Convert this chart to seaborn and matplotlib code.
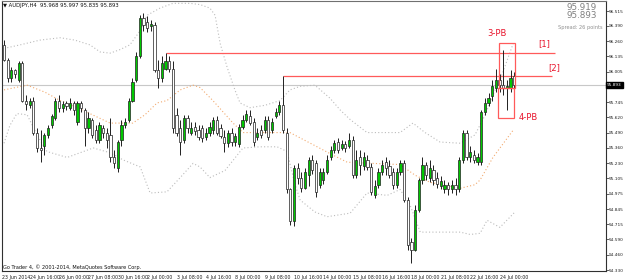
import numpy as np
import pandas as pd
import matplotlib
matplotlib.use("Agg")
import matplotlib.pyplot as plt
import matplotlib.transforms as mtransforms
from matplotlib.patches import Rectangle
import seaborn as sns

# ---------------- data (AUDJPY, H4) ----------------
opens = [96.23, 96.10, 95.95, 96.02, 95.93, 96.08, 95.76, 95.72, 95.76, 95.49,
         95.36, 95.38, 95.47, 95.55, 95.61, 95.76, 95.70, 95.74, 95.70, 95.74,
         95.58, 95.74, 95.68, 95.53, 95.60, 95.51, 95.43, 95.53, 95.49, 95.47,
         95.28, 95.19, 95.43, 95.55, 95.60, 95.76, 95.93, 96.14, 96.46, 96.42,
         96.39, 96.40, 96.02, 95.95, 96.03, 96.09, 96.03, 95.64, 95.53, 95.43,
         95.61, 95.49, 95.54, 95.51, 95.53, 95.45, 95.49, 95.51, 95.60, 95.53,
         95.45, 95.40, 95.49, 95.41, 95.39, 95.54, 95.60, 95.63, 95.58, 95.45,
         95.51, 95.51, 95.60, 95.51, 95.63, 95.66, 95.72, 95.49, 95.01, 94.74,
         95.19, 95.11, 95.02, 95.13, 95.26, 95.23, 95.05, 95.09, 95.16, 95.28,
         95.34, 95.41, 95.36, 95.39, 95.38, 95.43, 95.13, 95.28, 95.21, 95.26,
         95.20, 94.96, 95.05, 95.16, 95.24, 95.21, 95.16, 95.05, 95.16, 95.23,
         94.92, 94.57, 94.50, 94.84, 95.09, 95.22, 95.11, 95.17, 95.11, 95.04,
         95.01, 95.05, 95.01, 95.05, 95.01, 95.26, 95.49, 95.28, 95.30, 95.24,
         95.24, 95.66, 95.74, 95.80, 95.87, 95.93, 95.89, 95.87, 95.87, 95.968]
highs = [96.27, 96.12, 96.04, 96.03, 96.09, 96.09, 95.81, 95.78, 95.79, 95.53,
         95.51, 95.49, 95.55, 95.65, 95.78, 95.81, 95.76, 95.76, 95.78, 95.76,
         95.76, 95.76, 95.70, 95.66, 95.61, 95.55, 95.58, 95.55, 95.53, 95.61,
         95.34, 95.43, 95.60, 95.61, 95.78, 95.95, 96.17, 96.48, 96.50, 96.47,
         96.44, 96.42, 96.10, 96.14, 96.16, 96.14, 96.09, 95.70, 95.60, 95.64,
         95.64, 95.58, 95.58, 95.55, 95.55, 95.53, 95.58, 95.62, 95.63, 95.56,
         95.51, 95.51, 95.53, 95.49, 95.56, 95.64, 95.68, 95.68, 95.61, 95.53,
         95.55, 95.63, 95.63, 95.61, 95.70, 95.76, 95.97, 95.53, 95.02, 95.22,
         95.23, 95.16, 95.19, 95.28, 95.30, 95.26, 95.19, 95.19, 95.30, 95.38,
         95.43, 95.44, 95.43, 95.42, 95.49, 95.46, 95.34, 95.34, 95.33, 95.30,
         95.23, 95.09, 95.19, 95.26, 95.28, 95.26, 95.19, 95.19, 95.26, 95.26,
         94.95, 94.60, 94.88, 95.11, 95.28, 95.24, 95.26, 95.22, 95.16, 95.12,
         95.09, 95.07, 95.09, 95.11, 95.28, 95.51, 95.51, 95.38, 95.34, 95.32,
         95.68, 95.78, 95.82, 95.93, 96.03, 95.98, 96.19, 95.93, 96.02, 95.997]
lows = [96.09, 95.92, 95.92, 95.95, 95.92, 95.75, 95.68, 95.70, 95.47, 95.33,
        95.24, 95.30, 95.44, 95.53, 95.60, 95.66, 95.66, 95.68, 95.68, 95.64,
        95.55, 95.66, 95.38, 95.49, 95.44, 95.40, 95.40, 95.44, 95.36, 95.24,
        95.19, 95.16, 95.38, 95.53, 95.58, 95.75, 95.92, 96.12, 96.35, 96.34,
        96.35, 96.00, 95.87, 95.92, 96.02, 96.00, 95.49, 95.46, 95.30, 95.40,
        95.49, 95.47, 95.47, 95.43, 95.41, 95.43, 95.46, 95.48, 95.47, 95.44,
        95.33, 95.37, 95.38, 95.38, 95.37, 95.52, 95.58, 95.55, 95.38, 95.43,
        95.44, 95.49, 95.43, 95.49, 95.61, 95.64, 95.49, 94.98, 94.71, 94.70,
        95.06, 94.99, 95.01, 95.04, 95.14, 94.95, 95.02, 95.06, 95.14, 95.26,
        95.32, 95.32, 95.34, 95.33, 95.36, 95.11, 95.11, 95.13, 95.17, 95.17,
        94.96, 94.94, 95.02, 95.13, 95.13, 95.11, 95.01, 95.02, 95.13, 94.90,
        94.50, 94.39, 94.49, 94.82, 95.06, 95.09, 95.07, 95.05, 95.02, 95.01,
        94.98, 94.96, 94.98, 94.96, 94.99, 95.23, 95.26, 95.24, 95.23, 95.22,
        95.22, 95.64, 95.71, 95.76, 95.83, 95.83, 95.81, 95.68, 95.83, 95.835]
closes = [96.10, 95.95, 96.02, 95.98, 96.08, 95.76, 95.73, 95.76, 95.49, 95.36,
          95.34, 95.47, 95.53, 95.63, 95.76, 95.70, 95.73, 95.71, 95.74, 95.68,
          95.74, 95.70, 95.53, 95.61, 95.47, 95.43, 95.55, 95.49, 95.43, 95.28,
          95.23, 95.41, 95.55, 95.58, 95.76, 95.92, 96.14, 96.46, 96.40, 96.37,
          96.41, 96.02, 95.95, 96.08, 96.09, 96.03, 95.53, 95.49, 95.41, 95.61,
          95.53, 95.53, 95.50, 95.45, 95.44, 95.49, 95.54, 95.60, 95.49, 95.46,
          95.40, 95.49, 95.41, 95.46, 95.54, 95.60, 95.65, 95.57, 95.41, 95.49,
          95.47, 95.60, 95.45, 95.58, 95.66, 95.72, 95.51, 95.01, 94.74, 95.19,
          95.11, 95.02, 95.16, 95.26, 95.17, 94.99, 95.16, 95.16, 95.26, 95.34,
          95.40, 95.34, 95.39, 95.36, 95.43, 95.13, 95.26, 95.22, 95.28, 95.20,
          94.99, 95.04, 95.16, 95.22, 95.19, 95.13, 95.05, 95.16, 95.23, 94.92,
          94.54, 94.50, 94.84, 95.09, 95.22, 95.13, 95.19, 95.09, 95.06, 95.08,
          95.05, 95.01, 95.05, 95.01, 95.26, 95.49, 95.28, 95.33, 95.26, 95.28,
          95.66, 95.74, 95.78, 95.88, 95.93, 95.89, 95.87, 95.88, 95.95, 95.893]

# Bollinger bands read at sampled bar positions
upper_idx = [0, 4.4, 9.8, 15.3, 19.3, 23.4, 26.2, 28.9, 31.6, 34.3, 37.1, 39.0, 42.5, 46.0,
             50.7, 53.4, 56.1, 57.5, 58.9, 60.8, 62.9, 64.3, 67.0, 71.1, 75.2, 77.9, 80.7,
             84.7, 88.8, 91.6, 94.3, 98.9, 103.8, 107.9, 111.4, 114.7, 118.8, 124.3, 128.3,
             131.1, 133.2, 135.1, 138.7]
upper_val = [96.20, 96.23, 96.27, 96.29, 96.27, 96.23, 96.17, 96.16, 96.19, 96.23, 96.35,
             96.48, 96.54, 96.58, 96.58, 96.57, 96.54, 96.48, 96.24, 96.04, 95.85, 95.74,
             95.70, 95.72, 95.76, 95.85, 95.88, 95.89, 95.78, 95.68, 95.60, 95.49, 95.49,
             95.49, 95.57, 95.49, 95.41, 95.40, 95.47, 95.64, 95.81, 95.93, 96.24]
lower_idx = [0, 1.6, 3.5, 6.3, 9.0, 11.7, 17.2, 24.3, 28.9, 32.4, 37.1, 39.8, 44.4, 48.0,
             51.5, 53.4, 56.1, 60.2, 65.1, 69.8, 74.4, 77.1, 79.3, 80.7, 84.7, 88.0, 94.3,
             98.9, 104.4, 107.9, 110.6, 113.4, 124.3, 127.0, 129.7, 131.6, 135.1, 139.2]
lower_val = [95.40, 95.55, 95.65, 95.64, 95.47, 95.33, 95.28, 95.36, 95.32, 95.26, 95.20,
             94.98, 94.99, 95.11, 95.23, 95.20, 95.11, 95.17, 95.36, 95.37, 95.37, 95.33,
             95.05, 94.92, 94.82, 94.78, 94.81, 94.98, 94.96, 95.01, 94.88, 94.65, 94.65,
             94.63, 94.64, 94.75, 94.69, 94.82]
mid_idx = [0, 6.3, 11.2, 15.3, 19.3, 23.4, 28.9, 35.1, 38.4, 41.7, 44.4, 48.0, 51.5, 53.4,
           56.9, 62.4, 65.1, 71.7, 77.9, 85.3, 89.6, 93.5, 100.5, 107.9, 112.0, 116.1,
           124.3, 128.3, 129.7, 133.2, 138.7]
mid_val = [95.85, 95.89, 95.83, 95.76, 95.71, 95.65, 95.57, 95.57, 95.64, 95.74, 95.76,
           95.85, 95.89, 95.87, 95.76, 95.57, 95.49, 95.49, 95.49, 95.37, 95.30, 95.24,
           95.23, 95.22, 95.13, 95.07, 95.02, 95.05, 95.09, 95.28, 95.51]

x_tick_pos = [-0.5, 7, 15, 23, 31, 39, 47, 55, 63, 71, 79, 87, 95, 103, 111, 119, 127, 135]
x_tick_labels = ["23 Jun 2014", "24 Jun 16:00", "26 Jun 00:00", "27 Jun 08:00",
                 "30 Jun 16:00", "2 Jul 00:00", "3 Jul 08:00", "4 Jul 16:00",
                 "8 Jul 00:00", "9 Jul 08:00", "10 Jul 16:00", "14 Jul 00:00",
                 "15 Jul 08:00", "16 Jul 16:00", "18 Jul 00:00", "21 Jul 08:00",
                 "22 Jul 16:00", "24 Jul 00:00"]
y_ticks = [96.515, 96.390, 96.260, 96.135, 96.005, 95.745, 95.620, 95.490, 95.360,
           95.230, 95.105, 94.975, 94.845, 94.715, 94.590, 94.460, 94.330]

level1 = 96.16   # [1]
level2 = 95.97   # [2]
last_price = 95.893
ask_price = 95.919

# ---------------- style ----------------
sns.set_style("white")
plt.rcParams["font.family"] = ["DejaVu Sans"]

fig = plt.figure(figsize=(6.25, 2.8), dpi=100)
ax = fig.add_axes([2 / 625, 9 / 280, 604 / 625, 270 / 280])
ax.set_facecolor("white")

n = len(opens)
idx = np.arange(n)
o = np.array(opens); h = np.array(highs); l = np.array(lows); c = np.array(closes)

# bands
dots = (0, (1, 2))
df_up = pd.DataFrame({"i": upper_idx, "v": upper_val})
df_lo = pd.DataFrame({"i": lower_idx, "v": lower_val})
df_mid = pd.DataFrame({"i": mid_idx, "v": mid_val})
sns.lineplot(data=df_up, x="i", y="v", ax=ax, color="#bcbcbc", lw=0.8,
             linestyle=dots, sort=False)
sns.lineplot(data=df_lo, x="i", y="v", ax=ax, color="#bcbcbc", lw=0.8,
             linestyle=dots, sort=False)
sns.lineplot(data=df_mid, x="i", y="v", ax=ax, color="#f2aa70", lw=0.8,
             linestyle=dots, sort=False)

# current price line
ax.axhline(last_price, color="#c8c8c8", lw=0.8, zorder=1)

# candles
ax.vlines(idx, l, h, color="#202020", lw=0.7, zorder=3)
bull = c >= o
body_bottom = np.minimum(o, c)
body_h = np.maximum(np.abs(c - o), 0.004)
ax.bar(idx[bull], body_h[bull], bottom=body_bottom[bull], width=0.6,
       color="#00c800", edgecolor="#202020", lw=0.5, zorder=4)
ax.bar(idx[~bull], body_h[~bull], bottom=body_bottom[~bull], width=0.6,
       color="white", edgecolor="#202020", lw=0.5, zorder=4)

# levels
red = "#ff5a5a"
ax.hlines(level1, 44, 150.1, color=red, lw=0.9, zorder=2)
ax.hlines(level2, 76, 149.3, color=red, lw=0.9, zorder=2)
ax.add_patch(Rectangle((134.8, 95.866), 4.5, 96.245 - 95.866, fill=False,
                       edgecolor=red, lw=0.9, zorder=5))
ax.add_patch(Rectangle((134.6, 95.61), 4.4, 95.866 - 95.61, fill=False,
                       edgecolor=red, lw=0.9, zorder=5))
tred = "#e8142c"
ax.text(134.3, 96.33, "3-PB", color=tred, fontsize=6, ha="center", va="center")
ax.text(147.1, 96.24, "[1]", color=tred, fontsize=6, ha="center", va="center")
ax.text(149.9, 96.04, "[2]", color=tred, fontsize=6, ha="center", va="center")
ax.text(142.8, 95.62, "4-PB", color=tred, fontsize=6, ha="center", va="center")

# axes limits
ax.set_xlim(-0.545, 164.0)
ax.set_ylim(94.322, 96.600)

# y axis on the right
ax.yaxis.tick_right()
ax.set_yticks(y_ticks)
ax.set_yticklabels([f"{v:.3f}" for v in y_ticks], fontsize=3.1, color="#202020")
ax.tick_params(axis="y", length=1.8, width=0.5, pad=0.5, colors="#202020")

# x axis
ax.set_xticks(x_tick_pos)
ax.set_xticklabels(x_tick_labels, fontsize=3.4, color="#202020", ha="left")
ax.tick_params(axis="x", length=2.5, width=0.5, pad=0.6, colors="#202020")
ax.set_xlabel(""); ax.set_ylabel("")

for side in ["left", "right", "bottom"]:
    ax.spines[side].set_color("#303030")
    ax.spines[side].set_linewidth(0.8)
ax.spines["top"].set_color("#707070")
ax.spines["top"].set_linewidth(0.8)

# current price box
trans = mtransforms.blended_transform_factory(ax.transAxes, ax.transData)
ax.text(1.002, last_price, f"{last_price:.3f}", transform=trans, fontsize=3.1,
        color="white", va="center", ha="left",
        bbox=dict(boxstyle="square,pad=0.2", fc="black", ec="black"), zorder=10,
        clip_on=False)

# header texts
fig.text(3 / 625, 1 - 5 / 280, "\u25bc AUDJPY,H4  95.968 95.997 95.835 95.893",
         fontsize=3.8, color="#101010", va="center", ha="left")
fig.text(597 / 625, 1 - 7.5 / 280, f"{ask_price:.3f}", fontsize=6.3, color="#808080",
         va="center", ha="right")
fig.text(597 / 625, 1 - 16 / 280, f"{last_price:.3f}", fontsize=6.3, color="#808080",
         va="center", ha="right")
fig.text(603 / 625, 1 - 27 / 280, "Spread: 26 points", fontsize=3.6, color="#909090",
         va="center", ha="right")
fig.text(3 / 625, 1 - 267 / 280, "Go Trader 4, \u00a9 2001-2014, MetaQuotes Software Corp.",
         fontsize=3.6, color="#101010", va="center", ha="left")

fig.savefig("out.png", dpi=100)
